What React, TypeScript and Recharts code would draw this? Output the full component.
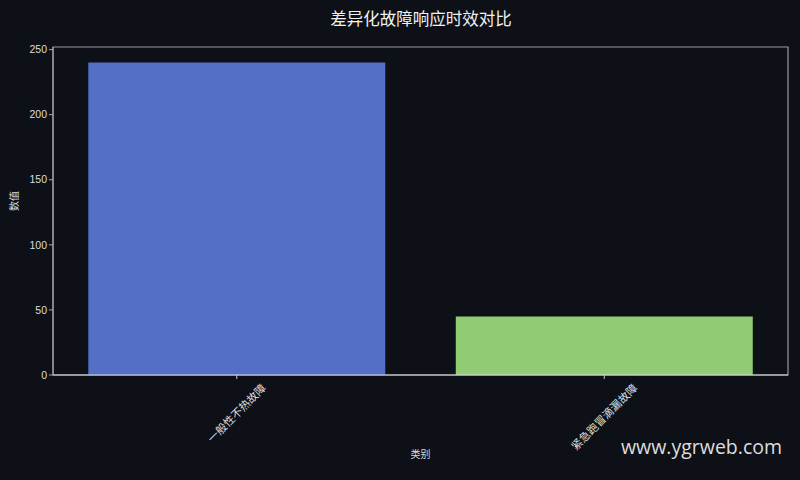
import {Bar, BarChart, Cell, ReferenceArea, XAxis, YAxis} from "recharts";

const categories = ["一般性不热故障", "紧急跑冒滴漏故障"];
const values = [240, 45];
const barColors = ["#5470c6", "#91cc75"];
const yTicks = [0, 50, 100, 150, 200, 250];

const FONT = "'Liberation Sans', 'Noto Sans CJK SC', sans-serif";
const BG = "#0d1017";

const data = categories.map((name, i) => ({name, value: values[i]}));


function RotatedTick(props: any) {
    const {x, y, payload} = props;
    const text = String(payload.value);
    const fs = 11;
    const len = text.length * fs;
    const ext = (len + fs) * 0.7071;
    const cy = y + 1 + ext / 2;
    return <text
        x={x}
        y={cy}
        transform={`rotate(-45, ${x}, ${cy})`}
        textAnchor="middle"
        dominantBaseline="central"
        fill="#dddddd"
        fontSize={fs}
        fontFamily={FONT}
    >{text}</text>
}


export default function App() {
    return <div style={{width: 800, height: 480, background: BG, position: "relative", fontFamily: FONT}}>
        <style>{"body{margin:0;background:" + BG + "}"}</style>
        <div style={{
            position: "absolute", top: 6, left: 21, width: 800, textAlign: "center",
            color: "#f0f0f0", fontSize: 16.5, fontFamily: "'Noto Sans CJK SC', sans-serif",
        }}>差异化故障响应时效对比</div>
        <BarChart
            width={800}
            height={480}
            data={data}
            margin={{top: 47, right: 12, bottom: 15, left: 0}}
            barCategoryGap="9.6%"
        >
            <ReferenceArea y1={0} y2={252} fill="none" stroke="#9a9a9a" strokeWidth={1.2} ifOverflow="visible"/>
            <XAxis
                dataKey="name"
                height={90}
                stroke="#e0e0e0"
                tickSize={4}
                tickLine={{stroke: "#cccccc"}}
                tick={<RotatedTick/>}
                interval={0}
                label={{value: "类别", position: "insideBottom", offset: 7, fill: "#dddddd", fontSize: 10, fontFamily: FONT}}
            />
            <YAxis
                domain={[0, 252]}
                ticks={yTicks}
                width={53}
                stroke="#aaaaaa"
                tickSize={4}
                tick={{fill: "#dddddd", fontSize: 10.5, fontFamily: FONT}}
                label={{value: "数值", angle: -90, position: "insideLeft", offset: 14, fill: "#dddddd", fontSize: 10, fontFamily: FONT}}
            />
            <Bar dataKey="value" isAnimationActive={false}>
                {data.map((d, i) => <Cell key={d.name} fill={barColors[i]}/>)}
            </Bar>
        </BarChart>
        <div style={{
            position: "absolute", left: 621, top: 433, color: "#dddddd", fontSize: 19.5,
            fontFamily: "'Open Sans', sans-serif",
        }}>www.ygrweb.com</div>
    </div>
}
